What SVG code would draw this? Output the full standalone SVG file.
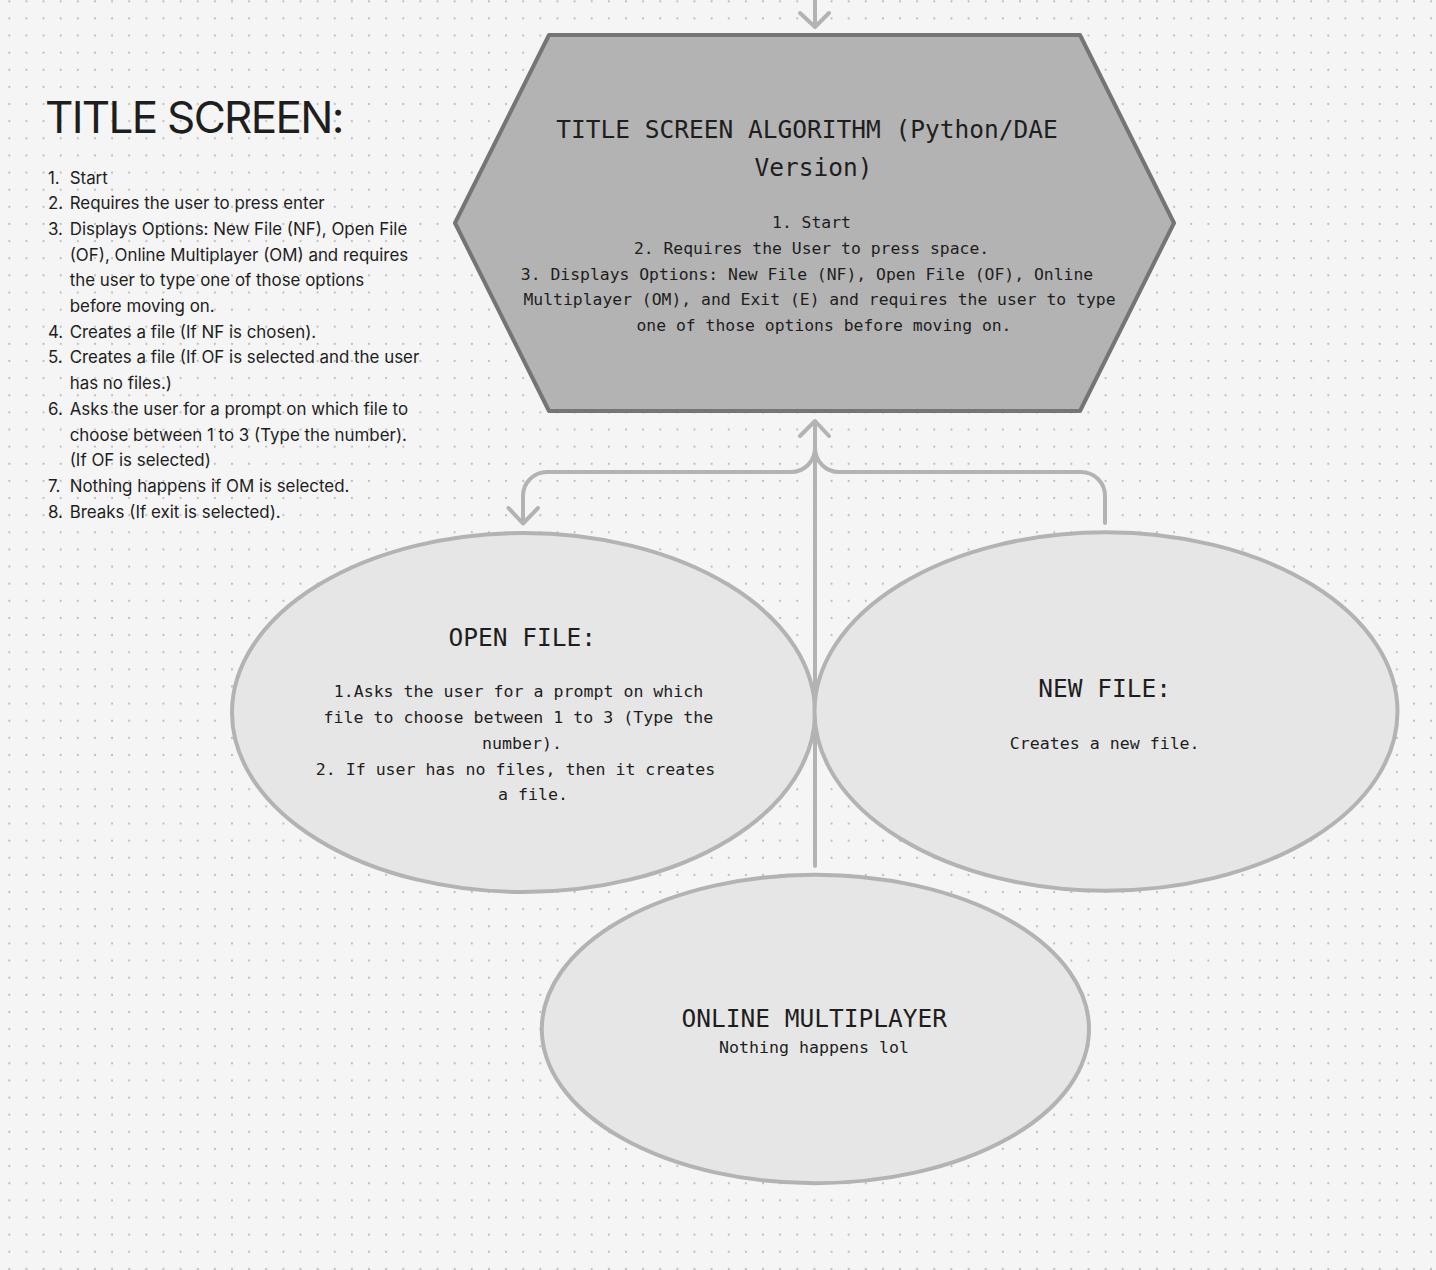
<svg xmlns="http://www.w3.org/2000/svg" width="1436" height="1270" viewBox="0 0 1436 1270">
  <defs>
    <pattern id="dots" patternUnits="userSpaceOnUse" x="0.735" y="-7.265" width="17.13" height="17.13">
      <circle cx="8.565" cy="8.565" r="1.1" fill="#bcbcbc"/>
    </pattern>
    <style>
      .mono { font-family: "DejaVu Sans Mono", "Liberation Mono", monospace; fill: #1e1e1e; }
      .head { font-size: 24.5px; text-anchor: middle; }
      .body { font-size: 16.6px; text-anchor: middle; }
      .sans { font-family: Inter, "Liberation Sans", sans-serif; fill: #1e1e1e; }
      .li { font-size: 16.9px; }
      .conn { fill: none; stroke: #b3b3b3; stroke-width: 4; stroke-linecap: round; stroke-linejoin: round; }
      .ell { fill: #e6e6e6; stroke: #b3b3b3; stroke-width: 4; }
    </style>
  </defs>

  <rect x="0" y="0" width="1436" height="1270" fill="#f5f5f5"/>
  <rect x="0" y="0" width="1436" height="1270" fill="url(#dots)"/>

  <g id="notes">
    <text class="sans" x="45" y="133" font-size="44" letter-spacing="-1.7">TITLE SCREEN:</text>
    <g class="sans li">
      <text x="48" y="183.5">1.</text><text x="69.7" y="183.5">Start</text>
      <text x="48" y="209.2">2.</text><text x="69.7" y="209.2">Requires the user to press enter</text>
      <text x="48" y="234.9">3.</text><text x="69.7" y="234.9">Displays Options: New File (NF), Open File</text>
      <text x="69.7" y="260.6">(OF), Online Multiplayer (OM) and requires</text>
      <text x="69.7" y="286.3">the user to type one of those options</text>
      <text x="69.7" y="312">before moving on.</text>
      <text x="48" y="337.7">4.</text><text x="69.7" y="337.7">Creates a file (If NF is chosen).</text>
      <text x="48" y="363.4">5.</text><text x="69.7" y="363.4">Creates a file (If OF is selected and the user</text>
      <text x="69.7" y="389.1">has no files.)</text>
      <text x="48" y="414.8">6.</text><text x="69.7" y="414.8">Asks the user for a prompt on which file to</text>
      <text x="69.7" y="440.5">choose between 1 to 3 (Type the number).</text>
      <text x="69.7" y="466.2">(If OF is selected)</text>
      <text x="48" y="491.9">7.</text><text x="69.7" y="491.9">Nothing happens if OM is selected.</text>
      <text x="48" y="517.6">8.</text><text x="69.7" y="517.6">Breaks (If exit is selected).</text>
    </g>
  </g>

  <g id="connectors">
    <path class="conn" d="M815 0 L815 26 M800 13 L815 27 L829 13"/>
    <path class="conn" d="M815 866 L815 421 M800 436 L815 421 L829 436"/>
    <path class="conn" d="M815 448 A24 24 0 0 1 791 472 L547 472 A24 24 0 0 0 523 496 L523 523 M508.5 508 L523 523.5 L538 508"/>
    <path class="conn" d="M815 448 A24 24 0 0 0 839 472 L1081 472 A24 24 0 0 1 1105 496 L1105 523"/>
  </g>

  <g id="title-screen-algorithm">
    <polygon points="549,35 1080,35 1174,223 1080,411 549,411 455,223" fill="#b3b3b3" stroke="#757575" stroke-width="4" stroke-linejoin="round"/>
    <text class="mono head" x="807" y="137.7">TITLE SCREEN ALGORITHM (Python/DAE</text>
    <text class="mono head" x="813.5" y="176">Version)</text>
    <g class="mono" font-size="16.4" text-anchor="middle">
      <text x="811.5" y="228.3">1. Start</text>
      <text x="811.5" y="254">2. Requires the User to press space.</text>
      <text x="807" y="279.5">3. Displays Options: New File (NF), Open File (OF), Online</text>
      <text x="819.5" y="305">Multiplayer (OM), and Exit (E) and requires the user to type</text>
      <text x="824" y="330.7">one of those options before moving on.</text>
    </g>
  </g>

  <g id="open-file">
    <ellipse class="ell" cx="523.5" cy="712.5" rx="291.5" ry="179.5"/>
    <text class="mono head" x="522.2" y="645.7">OPEN FILE:</text>
    <text class="mono body" x="518.5" y="697.3">1.Asks the user for a prompt on which</text>
    <text class="mono body" x="518.4" y="723">file to choose between 1 to 3 (Type the</text>
    <text class="mono body" x="522" y="748.7">number).</text>
    <text class="mono body" x="515.5" y="774.5">2. If user has no files, then it creates</text>
    <text class="mono body" x="533" y="800">a file.</text>
  </g>

  <g id="new-file">
    <ellipse class="ell" cx="1106" cy="711.5" rx="291.5" ry="179.2"/>
    <text class="mono head" x="1104.7" y="697.3">NEW FILE:</text>
    <text class="mono body" x="1104.7" y="748.7">Creates a new file.</text>
  </g>

  <g id="online-multiplayer">
    <ellipse class="ell" cx="815.4" cy="1029" rx="273.6" ry="154.2"/>
    <text class="mono head" x="814.3" y="1026.7">ONLINE MULTIPLAYER</text>
    <text class="mono body" x="814" y="1052.7">Nothing happens lol</text>
  </g>
</svg>
